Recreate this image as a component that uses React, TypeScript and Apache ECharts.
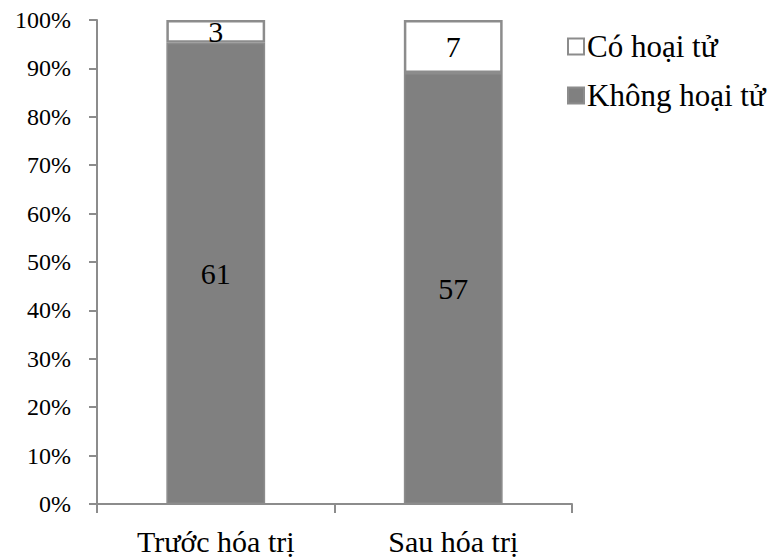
import React, { useEffect, useRef } from "react";
import * as echarts from "echarts";

// Patient counts per treatment stage
const categories = ["Trước hóa trị", "Sau hóa trị"];
const necrosisYes = [3, 7]; // Có hoại tử
const necrosisNo = [61, 57]; // Không hoại tử
const yTickLabels = ["0%", "10%", "20%", "30%", "40%", "50%", "60%", "70%", "80%", "90%", "100%"];

const FONT = "Times New Roman, Liberation Serif, DejaVu Serif, serif";
const AXIS_GRAY = "#8c8c8c";

export default function App() {
  const ref = useRef<HTMLDivElement>(null);

  useEffect(() => {
    if (!ref.current) return;
    const chart = echarts.init(ref.current, undefined, { renderer: "svg" });

    const totals = categories.map((_, i) => necrosisYes[i] + necrosisNo[i]);
    const pct = (arr: number[]) => arr.map((v, i) => (v / totals[i]) * 100);
    const noPct = pct(necrosisNo);
    const yesPct = pct(necrosisYes);

    const labelStyle = {
      show: true,
      position: "inside" as const,
      color: "#000",
      fontFamily: FONT,
      fontSize: 30,
    };

    chart.setOption({
      animation: false,
      backgroundColor: "#fff",
      textStyle: { fontFamily: FONT },
      grid: { left: 97, top: 20, right: 204, bottom: 56 },
      legend: {
        orient: "vertical",
        left: 562,
        top: 26,
        itemGap: 18,
        itemWidth: 16,
        itemHeight: 16,
        icon: "rect",
        data: ["Có hoại tử", "Không hoại tử"],
        textStyle: { fontFamily: FONT, fontSize: 31, color: "#000", padding: [0, 0, 0, -2] },
      },
      xAxis: {
        type: "category",
        data: categories,
        axisLine: { lineStyle: { color: AXIS_GRAY, width: 2 } },
        axisTick: { show: true, length: 9, lineStyle: { color: AXIS_GRAY, width: 2 } },
        axisLabel: { color: "#000", fontFamily: FONT, fontSize: 30, margin: 22 },
      },
      yAxis: {
        type: "value",
        min: 0,
        max: 100,
        interval: 10,
        splitLine: { show: false },
        axisLine: { show: true, lineStyle: { color: AXIS_GRAY, width: 2 } },
        axisTick: { show: true, length: 8, lineStyle: { color: AXIS_GRAY, width: 2 } },
        axisLabel: {
          color: "#000",
          fontFamily: FONT,
          fontSize: 24,
          margin: 26,
          formatter: (v: number) => yTickLabels[Math.round(v / 10)],
        },
      },
      series: [
        {
          name: "Không hoại tử",
          type: "bar",
          stack: "total",
          barWidth: "41.6%",
          data: noPct,
          itemStyle: { color: "#808080", borderColor: "#8c8c8c", borderWidth: 1.5 },
          label: { ...labelStyle, formatter: (p: any) => String(necrosisNo[p.dataIndex]) },
        },
        {
          name: "Có hoại tử",
          type: "bar",
          stack: "total",
          data: yesPct,
          itemStyle: { color: "#ffffff", borderColor: "#8c8c8c", borderWidth: 2.5 },
          label: { ...labelStyle, formatter: (p: any) => String(necrosisYes[p.dataIndex]) },
        },
      ],
    });

    return () => chart.dispose();
  }, []);

  return <div ref={ref} style={{ width: 776, height: 560, position: "absolute", left: 0, top: 0 }} />;
}
